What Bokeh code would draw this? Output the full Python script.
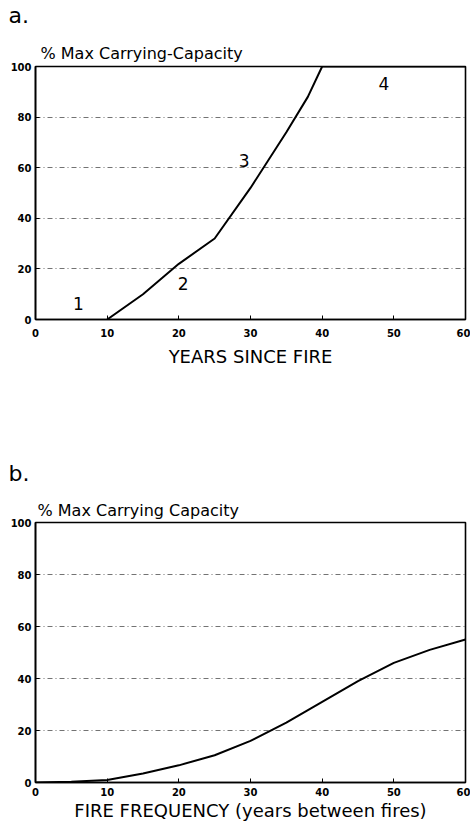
from bokeh.plotting import figure
from bokeh.models import Range1d, FixedTicker, Title, ColumnDataSource
from bokeh.layouts import column
from bokeh.embed import file_html
from bokeh.resources import INLINE
from bokeh.core.properties import value

# ---- Panel a data ----
years_since_fire = [10, 15, 20, 25, 30, 35, 38, 40, 60]
capacity_a = [0, 10, 22, 32, 52, 74, 88, 100, 100]
stage_labels = ["1", "2", "3", "4"]
stage_x = [6.0, 20.6, 29.1, 48.6]
stage_y = [6.3, 14.1, 62.8, 93.2]

# ---- Panel b data ----
fire_frequency = [0, 5, 10, 15, 20, 25, 30, 35, 40, 45, 50, 55, 60]
capacity_b = [0, 0.3, 1.0, 3.5, 6.6, 10.5, 16, 23, 31, 39, 46, 51, 55]

x_ticks = [0, 10, 20, 30, 40, 50, 60]
y_ticks = [0, 20, 40, 60, 80, 100]
panel_letters = ["a.", "b."]

FONT = "DejaVu Sans"
W = 470


def header(height, letter, top_border):
    # small empty strip whose title carries the panel letter
    h = figure(width=W, height=height, output_backend="svg", toolbar_location=None,
               x_range=Range1d(0, 60), y_range=Range1d(0, 1),
               x_axis_type=None, y_axis_type=None, title=None,
               min_border_left=35, min_border_right=5, min_border_top=top_border,
               min_border_bottom=0)
    h.outline_line_color = None
    h.grid.visible = False
    h.background_fill_color = "white"
    h.border_fill_color = "white"
    h.add_layout(Title(text=letter, align="left", offset=-27, standoff=0,
                       text_font=FONT, text_font_size="22px",
                       text_font_style="normal", text_color="black"), "above")
    return h


def make_panel(height, top, bottom, xlabel, label_standoff, axis_label_standoff,
               ytitle, ytitle_offset, ytitle_standoff):
    p = figure(width=W, height=height, output_backend="svg", toolbar_location=None,
               x_range=Range1d(0, 60), y_range=Range1d(0, 100),
               min_border_left=35, min_border_right=5,
               min_border_top=top, min_border_bottom=bottom, title=None)
    p.background_fill_color = "white"
    p.border_fill_color = "white"
    p.outline_line_color = "black"
    p.outline_line_width = 1.6
    p.xgrid.visible = False
    p.ygrid.ticker = FixedTicker(ticks=[20, 40, 60, 80])
    p.ygrid.grid_line_color = "black"
    p.ygrid.grid_line_alpha = 0.55
    p.ygrid.grid_line_dash = "5 3 1 3"
    p.ygrid.grid_line_width = 1.1
    p.xaxis.ticker = FixedTicker(ticks=x_ticks)
    p.yaxis.ticker = FixedTicker(ticks=y_ticks)
    for ax in (p.xaxis[0], p.yaxis[0]):
        ax.axis_line_color = "black"
        ax.axis_line_width = 1.6
        ax.major_tick_in = 4
        ax.major_tick_out = 0
        ax.minor_tick_line_color = None
        ax.major_tick_line_color = "black"
        ax.major_label_text_font = FONT
        ax.major_label_text_font_size = "10px"
        ax.major_label_text_font_style = "bold"
        ax.major_label_text_color = "black"
    p.yaxis.major_label_standoff = 4
    p.xaxis.major_label_standoff = label_standoff
    p.xaxis.axis_label = xlabel
    p.xaxis.axis_label_text_font = FONT
    p.xaxis.axis_label_text_font_size = "18px"
    p.xaxis.axis_label_text_font_style = "normal"
    p.xaxis.axis_label_text_color = "black"
    p.xaxis.axis_label_standoff = axis_label_standoff
    p.add_layout(Title(text=ytitle, align="left", offset=ytitle_offset,
                       standoff=ytitle_standoff, text_font=FONT,
                       text_font_size="16px", text_font_style="normal",
                       text_color="black"), "above")
    return p


# Panel a
ha = header(36, panel_letters[0], 27)
pa = make_panel(364, 30, 81, "YEARS SINCE FIRE", 9, 6,
                "% Max Carrying-Capacity", 5, 8)
pa.line(years_since_fire, capacity_a, line_color="black", line_width=2)
src = ColumnDataSource(dict(x=stage_x, y=stage_y, t=stage_labels))
pa.text(x="x", y="y", text="t", source=src, text_font=value(FONT),
        text_font_size="17px", text_align="center", text_baseline="middle",
        text_color="black")

# Panel b
hb = header(90, panel_letters[1], 85)
pb = make_panel(333, 32, 40, "FIRE FREQUENCY (years between fires)", 5, 1,
                "% Max Carrying Capacity", 2, 6)
pb.line(fire_frequency, capacity_b, line_color="black", line_width=2)

layout = column(ha, pa, hb, pb, spacing=0)
open("out.html", "w").write(file_html(layout, INLINE))
